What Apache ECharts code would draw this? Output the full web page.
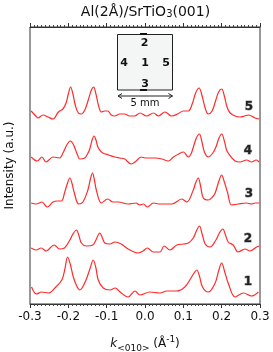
<!DOCTYPE html>
<html>
<head>
<meta charset="utf-8">
<script src="https://cdn.jsdelivr.net/npm/echarts@6/dist/echarts.min.js"></script>
<style>html,body{margin:0;padding:0;background:#fff}#c{width:273px;height:352px}</style>
</head>
<body>
<div id="c"></div>
<script>
// k (1/Å) and intensity (a.u., with vertical offsets)
const scanNames = ['1', '2', '3', '4', '5'];
const xTicks = [-0.3, -0.2, -0.1, 0.0, 0.1, 0.2, 0.3];
const scan5 = [[-0.297,193],[-0.285,188],[-0.279,186],[-0.266,189],[-0.253,187],[-0.240,185],[-0.226,192],[-0.214,195],[-0.206,201],[-0.200,210],[-0.194,217],[-0.188,210],[-0.182,199],[-0.174,191],[-0.166,190],[-0.157,194],[-0.148,204],[-0.140,214],[-0.134,217],[-0.128,210],[-0.121,198],[-0.114,192],[-0.105,193],[-0.097,193],[-0.088,189],[-0.079,188],[-0.066,190],[-0.053,190],[-0.040,188],[-0.027,188],[-0.013,191],[0.004,188],[0.022,191],[0.035,188],[0.052,192],[0.070,188],[0.085,190],[0.100,193],[0.113,193],[0.124,201],[0.132,211],[0.141,216],[0.149,208],[0.157,196],[0.165,190],[0.175,193],[0.184,203],[0.192,212],[0.200,215],[0.207,208],[0.214,197],[0.222,191],[0.235,188],[0.248,187],[0.260,188],[0.270,189],[0.287,186],[0.298,185]];
const scan4 = [[-0.297,147],[-0.281,143],[-0.269,147],[-0.258,142],[-0.240,147],[-0.223,146],[-0.214,151],[-0.204,159],[-0.195,163],[-0.189,161],[-0.183,156],[-0.176,149],[-0.170,145],[-0.157,146],[-0.150,150],[-0.144,155],[-0.138,164],[-0.133,168],[-0.128,164],[-0.123,157],[-0.116,153],[-0.110,151],[-0.095,149],[-0.079,147],[-0.066,146],[-0.053,145],[-0.036,140],[-0.023,143],[-0.010,147],[0.003,146],[0.026,146],[0.044,145],[0.061,143],[0.074,147],[0.088,150],[0.100,152],[0.113,147],[0.120,150],[0.127,158],[0.134,166],[0.142,170],[0.148,163],[0.155,152],[0.165,147],[0.177,151],[0.186,158],[0.193,166],[0.200,170],[0.207,163],[0.212,155],[0.217,151],[0.235,143],[0.248,142],[0.265,144],[0.278,142],[0.290,144],[0.298,142]];
const scan3 = [[-0.297,101],[-0.284,100],[-0.269,102],[-0.255,97],[-0.240,102],[-0.229,103],[-0.218,103],[-0.210,111],[-0.203,120],[-0.196,126],[-0.190,120],[-0.185,112],[-0.173,100],[-0.162,102],[-0.149,114],[-0.143,124],[-0.137,131],[-0.132,124],[-0.127,114],[-0.114,101],[-0.097,105],[-0.084,102],[-0.070,102],[-0.044,100],[-0.023,101],[-0.014,99],[-0.004,100],[0.006,97],[0.022,101],[0.039,100],[0.070,100],[0.096,105],[0.109,102],[0.126,114],[0.133,122],[0.139,126],[0.145,118],[0.152,106],[0.165,104],[0.176,107],[0.183,111],[0.192,122],[0.200,129],[0.207,122],[0.215,112],[0.226,99],[0.243,100],[0.265,101],[0.278,100],[0.287,101],[0.298,101]];
const scan2 = [[-0.297,56],[-0.284,54],[-0.271,56],[-0.258,53],[-0.237,59],[-0.223,55],[-0.210,56],[-0.196,64],[-0.188,70],[-0.179,74],[-0.172,68],[-0.166,61],[-0.153,58],[-0.136,59],[-0.128,64],[-0.118,71],[-0.111,66],[-0.105,61],[-0.092,60],[-0.078,62],[-0.062,60],[-0.044,55],[-0.018,51],[-0.005,53],[0.006,56],[0.022,52],[0.039,52],[0.050,58],[0.065,54],[0.083,59],[0.100,60],[0.113,61],[0.126,66],[0.134,73],[0.142,78],[0.149,70],[0.157,60],[0.170,57],[0.185,64],[0.194,71],[0.203,75],[0.210,69],[0.217,62],[0.230,59],[0.243,52],[0.261,55],[0.274,53],[0.291,57],[0.298,58]];
const scan1 = [[-0.296,17],[-0.283,10],[-0.270,12],[-0.252,11],[-0.235,16],[-0.217,24],[-0.209,35],[-0.202,47],[-0.195,40],[-0.187,27],[-0.178,18],[-0.170,14],[-0.154,24],[-0.143,36],[-0.135,44],[-0.128,36],[-0.122,24],[-0.109,16],[-0.091,14],[-0.078,16],[-0.065,12],[-0.044,7],[-0.026,13],[-0.013,9],[0.013,12],[0.039,11],[0.057,13],[0.083,13],[0.104,17],[0.120,26],[0.128,31],[0.135,34],[0.142,28],[0.150,17],[0.165,12],[0.183,21],[0.192,33],[0.200,41],[0.208,32],[0.217,21],[0.235,7],[0.257,11],[0.278,8],[0.296,12]];
const scans = [scan1, scan2, scan3, scan4, scan5];

const FONT = 'DejaVu Sans';
const chart = echarts.init(document.getElementById('c'), null, {renderer: 'canvas'});

const tickCfg = {
  axisLine: {show: true, lineStyle: {color: '#333', width: 1}},
  axisTick: {show: true, inside: false, length: 4, lineStyle: {color: '#333', width: 1}},
  minorTick: {show: true, splitNumber: 10, length: 2, lineStyle: {color: '#444', width: 1}},
  splitLine: {show: false}
};

const curveLabelPos = [[248, 282], [248, 239], [249, 194], [248, 151], [249, 107]];
const insetDigits = [['2', 144.5, 43], ['4', 124, 63], ['1', 145, 63], ['5', 166, 63], ['3', 145, 84]];

const graphics = [
  {type: 'text', style: {text: 'Al(2Å)/SrTiO{sub|3}(001)', x: 145.5, y: 12, align: 'center', verticalAlign: 'middle',
    font: '14px "' + FONT + '"', fill: '#111',
    rich: {sub: {fontSize: 10, fontFamily: FONT, verticalAlign: 'bottom', lineHeight: 10}}}},
  {type: 'rect', shape: {x: 117.5, y: 34.5, width: 55, height: 55.5}, style: {fill: '#f4f6f6', stroke: '#222', lineWidth: 1}},
  {type: 'rect', shape: {x: 140, y: 33, width: 7, height: 2}, style: {fill: '#111'}},
  {type: 'rect', shape: {x: 140, y: 89, width: 7, height: 2}, style: {fill: '#111'}},
  {type: 'line', shape: {x1: 118, y1: 96, x2: 172.5, y2: 96}, style: {stroke: '#222', lineWidth: 1}},
  {type: 'polyline', shape: {points: [[122, 93.5], [118, 96], [122, 98.5]]}, style: {stroke: '#222', lineWidth: 1, fill: null}},
  {type: 'polyline', shape: {points: [[168.5, 93.5], [172.5, 96], [168.5, 98.5]]}, style: {stroke: '#222', lineWidth: 1, fill: null}},
  {type: 'text', style: {text: '5 mm', x: 145, y: 103, align: 'center', verticalAlign: 'middle', font: '10px "' + FONT + '"', fill: '#111'}}
];
insetDigits.forEach(d => graphics.push({type: 'text', style: {text: d[0], x: d[1], y: d[2], align: 'center', verticalAlign: 'middle',
  font: 'bold 11px "' + FONT + '"', fill: '#111'}}));
scanNames.forEach((n, i) => graphics.push({type: 'text', style: {text: n, x: curveLabelPos[i][0], y: curveLabelPos[i][1],
  align: 'center', verticalAlign: 'middle', font: 'bold 12px "' + FONT + '"', fill: '#222', stroke: '#999', lineWidth: 1}}));

chart.setOption({
  animation: false,
  grid: {left: 30, right: 13, top: 27, bottom: 48, containLabel: false, outerBoundsMode: 'none',
    show: true, borderColor: '#333', borderWidth: 1, backgroundColor: 'transparent'},
  xAxis: [
    Object.assign({
      type: 'value', min: xTicks[0], max: xTicks[xTicks.length - 1], interval: 0.1, position: 'bottom',
      axisLabel: {fontSize: 12, fontFamily: FONT, color: '#111', margin: 7,
        formatter: v => (Math.abs(v) < 1e-9 ? 0 : v).toFixed(1)},
      name: '{k|k}{sub|<010>} (Å{sup|-1})', nameLocation: 'middle', nameGap: 31,
      nameTextStyle: {fontSize: 12, fontFamily: FONT, color: '#111', lineHeight: 18,
        rich: {
          k: {fontSize: 12, fontFamily: FONT, fontStyle: 'italic', color: '#111', verticalAlign: 'middle'},
          sub: {fontSize: 9, fontFamily: FONT, color: '#111', verticalAlign: 'bottom', lineHeight: 9},
          sup: {fontSize: 9, fontFamily: FONT, color: '#111', verticalAlign: 'top', lineHeight: 9}
        }}
    }, tickCfg),
    Object.assign({
      type: 'value', min: xTicks[0], max: xTicks[xTicks.length - 1], interval: 0.1, position: 'top',
      axisLabel: {show: false}
    }, tickCfg)
  ],
  yAxis: {
    type: 'value', min: 0, max: 277,
    axisLine: {show: false}, axisTick: {show: false}, axisLabel: {show: false}, splitLine: {show: false},
    name: 'Intensity (a.u.)', nameLocation: 'middle', nameGap: 14,
    nameTextStyle: {fontSize: 12, fontFamily: FONT, color: '#111'}
  },
  series: scans.map((d, i) => ({
    name: scanNames[i], type: 'line', xAxisIndex: 0, data: d, smooth: 0.35, symbol: 'none',
    lineStyle: {color: '#ff2b2b', width: 1.2}
  })),
  graphic: graphics
});
</script>
</body>
</html>
